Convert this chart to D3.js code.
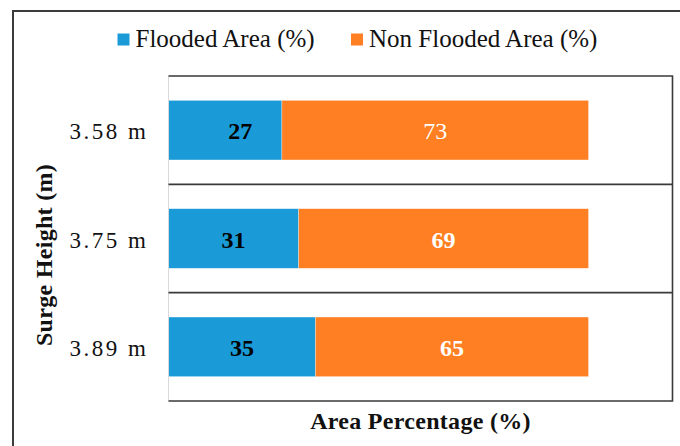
<!DOCTYPE html>
<html>
<head>
<meta charset="utf-8">
<script src="https://cdn.jsdelivr.net/npm/d3@7/dist/d3.min.js"></script>
<style>
  html, body { margin: 0; padding: 0; background: #fff; }
</style>
</head>
<body>
<svg id="chart" width="680" height="446"></svg>
<script>
// Surge scenarios and the share of area flooded / not flooded
const surgeHeights = ["3.58 m", "3.75 m", "3.89 m"];
const floodedPct = [27, 31, 35];
const nonFloodedPct = [73, 69, 65];
const seriesNames = ["Flooded Area (%)", "Non Flooded Area (%)"];
const seriesKeys = ["flooded", "nonFlooded"];
const seriesColors = ["#1A9BD7", "#FF7F22"];

const rows = surgeHeights.map((h, i) => ({
  height: h, flooded: floodedPct[i], nonFlooded: nonFloodedPct[i]
}));

const FONT = "'Liberation Serif', 'Times New Roman', serif";
const svg = d3.select("#chart");
const W = 680, H = 446;
const plot = { left: 168.5, right: 672.5, top: 76, bottom: 401 };

const x = d3.scaleLinear().domain([0, 120]).range([plot.left, plot.right]);
const y = d3.scaleBand().domain(surgeHeights).range([plot.top, plot.bottom]).padding(0);
const color = d3.scaleOrdinal().domain(seriesKeys).range(seriesColors);

// Outer chart frame (top and left edges are inside the window)
svg.append("path")
  .attr("d", `M13,${H} L13,11 L${W},11`)
  .attr("fill", "none").attr("stroke", "#3c3c3c").attr("stroke-width", 2);

// Legend
const legend = svg.append("g");
const legendX = [117.5, 351];
seriesNames.forEach((name, i) => {
  legend.append("rect")
    .attr("x", legendX[i]).attr("y", 33.5).attr("width", 12).attr("height", 12)
    .attr("fill", seriesColors[i]);
  legend.append("text")
    .attr("x", legendX[i] + 18).attr("y", 46.5)
    .style("font-family", FONT).style("font-size", "25px")
    .attr("fill", "#111")
    .text(name);
});

// Stacked bars
const stacked = d3.stack().keys(seriesKeys)(rows);
const barH = y.bandwidth() * 0.55;
const barOffset = (y.bandwidth() - barH) / 2;

const layers = svg.append("g").selectAll("g")
  .data(stacked).join("g")
  .attr("fill", d => color(d.key));

layers.selectAll("rect")
  .data(d => d).join("rect")
  .attr("x", d => x(d[0]))
  .attr("width", d => x(d[1]) - x(d[0]))
  .attr("y", d => y(d.data.height) + barOffset)
  .attr("height", barH)
  .attr("stroke", "#ffffff").attr("stroke-opacity", 0.5).attr("stroke-width", 0.6);

// Value labels inside the segments
const labelNudge = { "flooded|3.58 m": 15 };
layers.selectAll("text")
  .data(d => d.map(v => ({ v, key: d.key }))).join("text")
  .attr("x", d => (x(d.v[0]) + x(d.v[1])) / 2 + (labelNudge[d.key + "|" + d.v.data.height] || 0))
  .attr("y", d => y(d.v.data.height) + y.bandwidth() / 2 + 9)
  .attr("text-anchor", "middle")
  .style("font-family", FONT).style("font-size", "24px")
  .style("font-weight", d => (d.key === "nonFlooded" && d.v.data.height === "3.58 m") ? "normal" : "bold")
  .attr("fill", d => d.key === "flooded" ? "#000" : "#fff")
  .text(d => d.v[1] - d.v[0]);

// Plot frame and category separators
const frame = svg.append("g").attr("fill", "none");
frame.append("line")
  .attr("x1", plot.left).attr("x2", plot.left)
  .attr("y1", plot.top).attr("y2", plot.bottom)
  .attr("stroke", "#d9d9d9").attr("stroke-width", 1);
frame.append("path")
  .attr("d", `M${plot.left},${plot.top} L${plot.right},${plot.top} L${plot.right},${plot.bottom} L${plot.left},${plot.bottom}`)
  .attr("stroke", "#3a3a3a").attr("stroke-width", 1.6);
frame.selectAll("line.sep")
  .data(surgeHeights.slice(1)).join("line")
  .attr("class", "sep")
  .attr("x1", plot.left).attr("x2", plot.right)
  .attr("y1", d => y(d)).attr("y2", d => y(d))
  .attr("stroke", "#3a3a3a").attr("stroke-width", 1.6);

// Category axis
const yAxis = svg.append("g")
  .attr("transform", `translate(${plot.left},0)`)
  .call(d3.axisLeft(y).tickSize(0).tickPadding(20));
yAxis.select(".domain").remove();
yAxis.attr("font-family", null).attr("font-size", null);
yAxis.selectAll("text")
  .style("font-family", FONT).style("font-size", "23px")
  .style("letter-spacing", "2.5px")
  .attr("fill", "#111")
  .attr("dy", null)
  .attr("y", 9);

// Axis titles
svg.append("text")
  .attr("x", (plot.left + plot.right) / 2).attr("y", 428.5)
  .attr("text-anchor", "middle")
  .style("font-family", FONT).style("font-size", "24px").style("font-weight", "bold")
  .style("letter-spacing", "0.3px")
  .attr("fill", "#111")
  .text("Area Percentage (%)");

svg.append("text")
  .attr("transform", "translate(52,255) rotate(-90)")
  .attr("text-anchor", "middle")
  .style("font-family", FONT).style("font-size", "24px").style("font-weight", "bold")
  .style("letter-spacing", "0.3px")
  .attr("fill", "#111")
  .text("Surge Height (m)");
</script>
</body>
</html>
